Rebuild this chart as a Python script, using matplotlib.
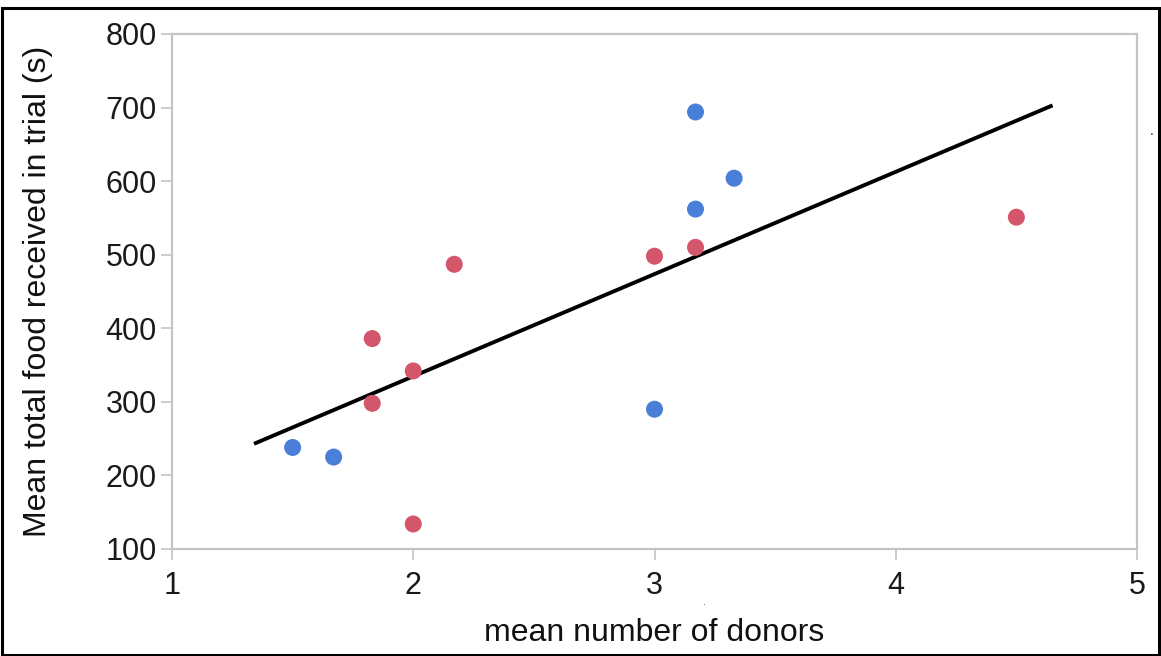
import matplotlib
matplotlib.use("Agg")
import matplotlib.pyplot as plt
from matplotlib.patches import Rectangle

plt.rcParams['font.family'] = ['Liberation Sans', 'DejaVu Sans']

# Data
blue_x = [1.5, 1.67, 3.0, 3.17, 3.17, 3.33]
blue_y = [238, 225, 290, 562, 694, 604]
red_x = [2.0, 1.83, 1.83, 2.0, 2.17, 3.0, 3.17, 4.5]
red_y = [134, 386, 298, 342, 487, 498, 510, 551]
fit_x = [1.34, 4.65]
fit_y = [243, 703]
x_ticks = [1, 2, 3, 4, 5]
y_ticks = [100, 200, 300, 400, 500, 600, 700, 800]

fig = plt.figure(figsize=(11.61, 6.56), dpi=100)
ax = fig.add_axes([172/1161, 1-549/656, (1137-172)/1161, (549-34)/656])

ax.plot(fit_x, fit_y, color='black', lw=2.8, solid_capstyle='butt', zorder=3)
ax.scatter(red_x, red_y, s=150, color='#d4566a', edgecolors='none', zorder=4)
ax.scatter(blue_x, blue_y, s=150, color='#4a7fd8', edgecolors='none', zorder=4)

ax.set_xlim(1, 5)
ax.set_ylim(100, 800)
ax.set_xticks(x_ticks)
ax.set_yticks(y_ticks)
for s in ax.spines.values():
    s.set_color('#c4c4c4')
    s.set_linewidth(1.6)
ax.tick_params(axis='both', length=8, width=1.2, color='#c4c4c4',
               labelsize=22, labelcolor='#1a1a1a', pad=3)
ax.tick_params(axis='x', pad=8)
ax.set_xlabel('mean number of donors', fontsize=23, color='#111111', va='center')
ax.set_ylabel('Mean total food received in trial (s)', fontsize=23, color='#111111', va='center')
ax.xaxis.set_label_coords((654-172)/965, (549-633)/515)
ax.yaxis.set_label_coords((38-172)/965, 0.5)

# stray dots in original
fig.text(1152/1161, 1-131/656, '.', fontsize=10, color='#333333', ha='center', va='center')
fig.text(705/1161, 1-602/656, '.', fontsize=8, color='#555555', ha='center', va='center')

# outer frame
fig.patches.append(Rectangle((2/1161, 1/656), 1157/1161, 647/656, transform=fig.transFigure,
                             fill=False, edgecolor='black', lw=2.2))

fig.savefig('out.png', dpi=100, facecolor='white')
